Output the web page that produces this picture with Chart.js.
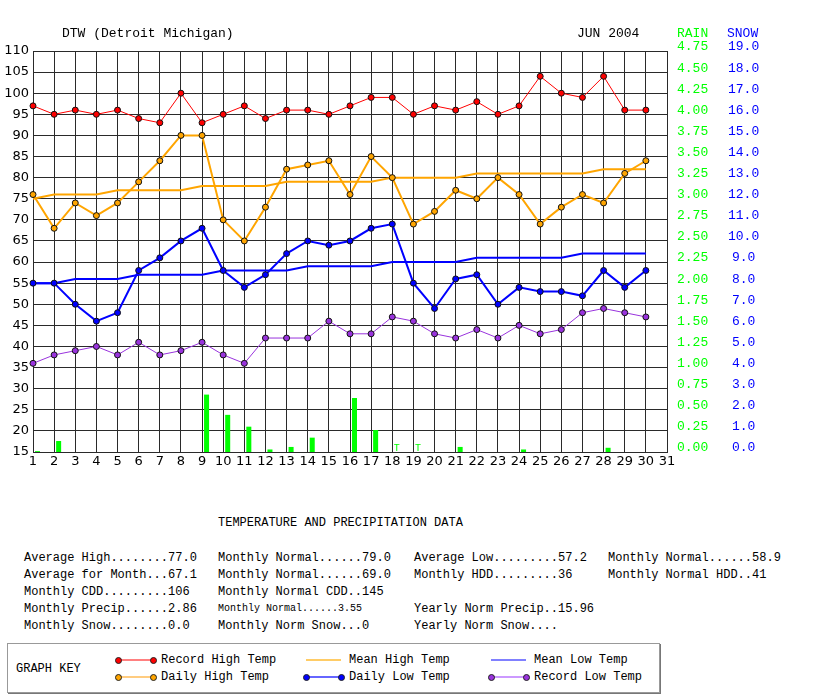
<!DOCTYPE html>
<html>
<head>
<meta charset="utf-8">
<script src="https://cdn.jsdelivr.net/npm/chart.js@4.4.1/dist/chart.umd.min.js"></script>
<style>
  body { margin: 0; background: #fff; width: 813px; height: 696px; position: relative; overflow: hidden; font-family: "Liberation Mono", monospace; color: #000; }
  #c { position: absolute; left: 0; top: 0; }
  .t { position: absolute; white-space: pre; line-height: 14px; font-size: 12px; }
  .hd { position: absolute; white-space: pre; line-height: 16px; font-size: 13px; top: 26px; }
  #key { position: absolute; left: 7px; top: 643px; width: 651px; height: 48px; border: 1px solid #999; box-shadow: 1px 1px 0 #777; }
  .ln { position: absolute; height: 2px; }
  .dot { position: absolute; width: 5px; height: 5px; border-radius: 50%; border: 1px solid #222; }
</style>
</head>
<body>
<canvas id="c" width="813" height="480"></canvas>

<div class="hd" style="left:62px">DTW (Detroit Michigan)</div>
<div class="hd" style="left:577px">JUN 2004</div>
<div class="hd" style="left:677px;color:#00ff00">RAIN</div>
<div class="hd" style="left:727px;color:#0000ff">SNOW</div>

<div class="t" style="left:218px;top:516px">TEMPERATURE AND PRECIPITATION DATA</div>

<div class="t" style="left:24px;top:551px">Average High........77.0</div>
<div class="t" style="left:218px;top:551px">Monthly Normal......79.0</div>
<div class="t" style="left:414px;top:551px">Average Low.........57.2</div>
<div class="t" style="left:608px;top:551px">Monthly Normal......58.9</div>

<div class="t" style="left:24px;top:568px">Average for Month...67.1</div>
<div class="t" style="left:218px;top:568px">Monthly Normal......69.0</div>
<div class="t" style="left:414px;top:568px">Monthly HDD.........36</div>
<div class="t" style="left:608px;top:568px">Monthly Normal HDD..41</div>

<div class="t" style="left:24px;top:585px">Monthly CDD.........106</div>
<div class="t" style="left:218px;top:585px">Monthly Normal CDD..145</div>

<div class="t" style="left:24px;top:602px">Monthly Precip......2.86</div>
<div class="t" style="left:218px;top:602px;font-size:10px">Monthly Normal......3.55</div>
<div class="t" style="left:414px;top:602px">Yearly Norm Precip..15.96</div>

<div class="t" style="left:24px;top:619px">Monthly Snow........0.0</div>
<div class="t" style="left:218px;top:619px">Monthly Norm Snow...0</div>
<div class="t" style="left:414px;top:619px">Yearly Norm Snow....</div>

<div id="key"></div>

<script>
// values
const dayLabels = ['1','2','3','4','5','6','7','8','9','10','11','12','13','14','15','16',
                   '17','18','19','20','21','22','23','24','25','26','27','28','29','30','31'];

const recordHigh = [97,95,96,95,96,94,93,100,93,95,97,94,96,96,95,97,99,99,95,97,96,98,95,97,104,100,99,104,96,96];
const dailyHigh  = [76,68,74,71,74,79,84,90,90,70,65,73,82,83,84,76,85,80,69,72,77,75,80,76,69,73,76,74,81,84];
const meanHigh   = [75,76,76,76,77,77,77,77,78,78,78,78,79,79,79,79,79,80,80,80,80,81,81,81,81,81,81,82,82,82];
const dailyLow   = [55,55,50,46,48,58,61,65,68,58,54,57,62,65,64,65,68,69,55,49,56,57,50,54,53,53,52,58,54,58];
const meanLow    = [55,55,56,56,56,57,57,57,57,58,58,58,58,59,59,59,59,60,60,60,60,61,61,61,61,61,62,62,62,62];
const recordLow  = [36,38,39,40,38,41,38,39,41,38,36,42,42,42,46,43,43,47,46,43,42,44,42,45,43,44,48,49,48,47];

const rainfall   = [0.01,0.13,0,0,0,0,0,0,0.68,0.44,0.30,0.03,0.06,0.17,0,0.64,0.26,0,0,0,0.06,0,0,0.03,0,0,0,0.05,0,0];
const snowfall   = [0,0,0,0,0,0,0,0,0,0,0,0,0,0,0,0,0,0,0,0,0,0,0,0,0,0,0,0,0,0];
const traceDays  = [18, 19];

const GRID = '#2a2a2a';

// "T" for trace amounts, put where the rain bar for that day sits
const traceMarks = {
  id: 'traceMarks',
  afterDatasetsDraw(chart) {
    const meta = chart.getDatasetMeta(1);
    const ctx = chart.ctx;
    ctx.save();
    ctx.fillStyle = '#00ff00';
    ctx.font = '10px "Liberation Mono"';
    ctx.textAlign = 'center';
    ctx.textBaseline = 'bottom';
    traceDays.forEach(d => {
      const bar = meta.data[d - 1];
      ctx.fillText('T', bar.x, chart.chartArea.bottom + 1);
    });
    ctx.restore();
  }
};

function tempLine(label, data, color, width, dots, order) {
  return {
    label: label,
    data: data,
    borderColor: color,
    backgroundColor: color,
    borderWidth: width,
    pointRadius: dots ? 3 : 0,
    pointBorderWidth: 1,
    pointBorderColor: '#111',
    pointBackgroundColor: color,
    tension: 0,
    clip: false,
    order: order
  };
}

new Chart(document.getElementById('c'), {
  type: 'line',
  data: {
    labels: dayLabels,
    datasets: [
      { type: 'bar', label: 'Snow', data: snowfall, yAxisID: 'snow', backgroundColor: '#0000ff',
        borderWidth: 0, categoryPercentage: 0.85, barPercentage: 0.56, order: 10 },
      { type: 'bar', label: 'Rain', data: rainfall, yAxisID: 'rain', backgroundColor: '#00ff00',
        borderWidth: 0, categoryPercentage: 0.85, barPercentage: 0.56, order: 10 },
      tempLine('Mean Low Temp', meanLow, '#0000ff', 2, false, 6),
      tempLine('Mean High Temp', meanHigh, '#ffa500', 2, false, 5),
      tempLine('Record Low Temp', recordLow, '#9933dd', 1, true, 4),
      tempLine('Daily Low Temp', dailyLow, '#0000ff', 2, true, 3),
      tempLine('Daily High Temp', dailyHigh, '#ffa500', 2, true, 2),
      tempLine('Record High Temp', recordHigh, '#ff0000', 1, true, 1)
    ]
  },
  options: {
    responsive: false,
    animation: false,
    layout: { padding: { top: 51 } },
    plugins: { legend: { display: false }, tooltip: { enabled: false } },
    scales: {
      x: {
        type: 'category',
        offset: false,
        grid: { color: GRID, lineWidth: 1, offset: false, drawTicks: false },
        border: { color: GRID },
        ticks: { color: '#000', font: { family: 'DejaVu Sans', size: 13 }, padding: 2,
                 autoSkip: false, maxRotation: 0 },
        afterFit: s => { s.height = 28; }
      },
      y: {
        position: 'left',
        min: 15, max: 110,
        grid: { color: GRID, lineWidth: 1, drawTicks: false },
        border: { color: GRID },
        ticks: { stepSize: 5, color: '#000', font: { family: 'DejaVu Sans', size: 13 }, padding: 4 },
        afterFit: s => { s.width = 33; }
      },
      rain: {
        position: 'right',
        weight: 1,
        min: 0, max: 4.75,
        grid: { display: false, drawTicks: false },
        border: { display: false },
        ticks: { stepSize: 0.25, color: '#00ff00', font: { family: 'Liberation Mono', size: 13 },
                 padding: 10, labelOffset: -4, callback: v => v.toFixed(2) },
        afterFit: s => { s.width = 51; }
      },
      snow: {
        position: 'right',
        weight: 2,
        min: 0, max: 19,
        grid: { display: false, drawTicks: false },
        border: { display: false },
        ticks: { stepSize: 1, color: '#0000ff', font: { family: 'Liberation Mono', size: 13 },
                 padding: 10, labelOffset: -4, crossAlign: 'center', callback: v => v.toFixed(1) },
        afterFit: s => { s.width = 95; }
      }
    }
  },
  plugins: [traceMarks]
});

// graph key
const keyItems = [
  { text: 'Record High Temp', line: '#ff8080', dot: '#ff0000', x: 117, row: 0 },
  { text: 'Mean High Temp',   line: '#ffcc66', dot: null,      x: 305, row: 0 },
  { text: 'Mean Low Temp',    line: '#8080ff', dot: null,      x: 490, row: 0 },
  { text: 'Daily High Temp',  line: '#ffcc80', dot: '#ffa500', x: 117, row: 1 },
  { text: 'Daily Low Temp',   line: '#6666ff', dot: '#0000ff', x: 305, row: 1 },
  { text: 'Record Low Temp',  line: '#cc99ff', dot: '#9933dd', x: 490, row: 1 }
];
const key = document.getElementById('key');
let html = '<div class="t" style="left:8px;top:18px">GRAPH KEY</div>';
keyItems.forEach(k => {
  const left = k.x - 7;          // key box sits at x=7
  const cy = k.row ? 33 : 16;
  html += `<div class="ln" style="left:${left}px;top:${cy - 1}px;width:35px;background:${k.line}"></div>`;
  if (k.dot) {
    html += `<div class="dot" style="left:${left - 3}px;top:${cy - 3.5}px;background:${k.dot}"></div>`;
    html += `<div class="dot" style="left:${left + 32}px;top:${cy - 3.5}px;background:${k.dot}"></div>`;
  }
  html += `<div class="t" style="left:${left + 43}px;top:${cy - 7}px">${k.text}</div>`;
});
key.innerHTML = html;
</script>
</body>
</html>
